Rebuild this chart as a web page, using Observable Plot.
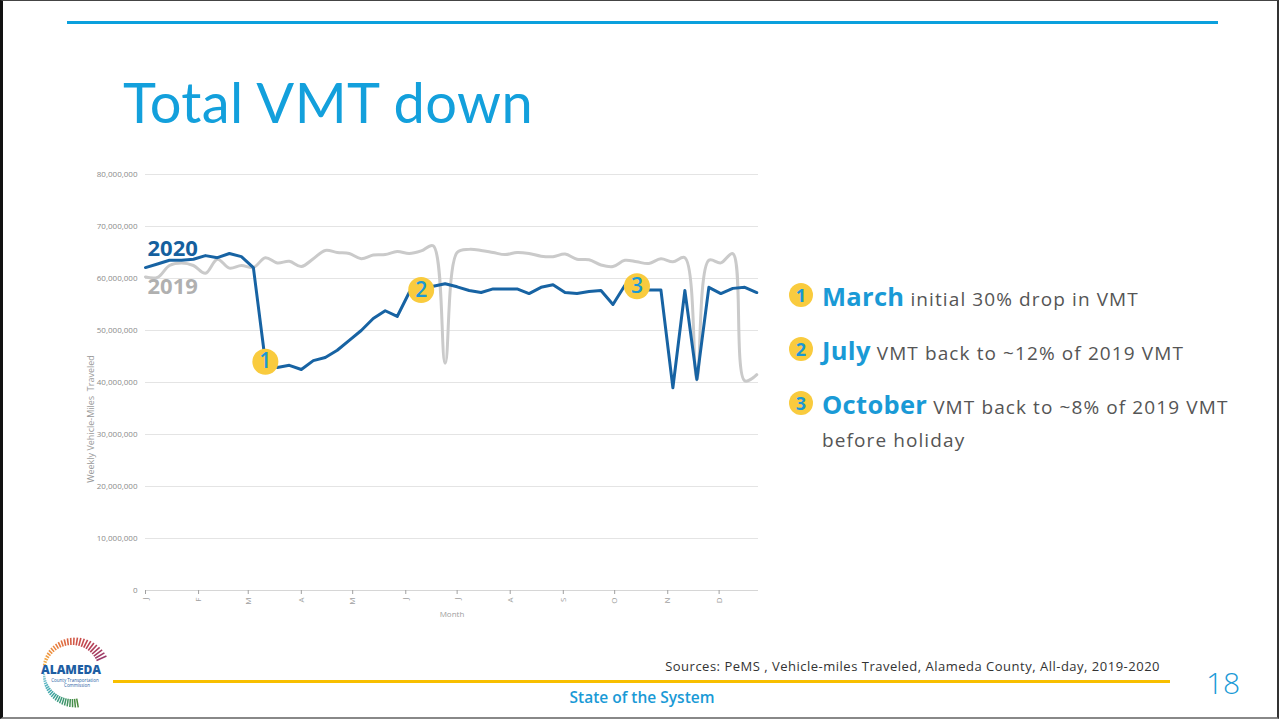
<!DOCTYPE html>
<html>
<head>
<meta charset="utf-8">
<script src="https://cdn.jsdelivr.net/npm/d3@7"></script>
<script src="https://cdn.jsdelivr.net/npm/@observablehq/plot@0.6"></script>
<style>
  html, body { margin: 0; padding: 0; background: #fff; }
  body { width: 1279px; height: 719px; position: relative; overflow: hidden; font-family: "Open Sans", sans-serif; }
  .frame { position: absolute; left: 0; top: 0; width: 1279px; height: 719px; box-sizing: border-box;
           border-left: 3px solid #111; border-top: 1px solid #444; border-right: 2px solid #333; border-bottom: 2px solid #888; pointer-events: none; }
  .topline { position: absolute; left: 67px; top: 21px; width: 1151px; height: 3px; background: #0ba0dd; }
  .title { position: absolute; left: 123px; top: 74px; font-family: Lato, "Open Sans", sans-serif; font-size: 56px; color: #13a0dc; font-weight: 400; letter-spacing: 0.4px; line-height: 1; white-space: nowrap; }
  #chart { position: absolute; left: 0; top: 150px; }
  .ylabel { position: absolute; left: 90px; top: 419px; transform: translate(-50%, -50%) rotate(-90deg); font-size: 9px; color: #9a9a9a; white-space: pre; }
  .notes { position: absolute; left: 788px; top: 280px; }
  .note { position: absolute; left: 0; white-space: nowrap; color: #555; font-size: 19px; letter-spacing: 1.1px; }
  .badge { position: absolute; left: 1px; top: 3px; width: 24px; height: 24px; border-radius: 50%; background: #f9cb3e; color: #1a98d5; font-size: 18px; font-weight: 700; text-align: center; line-height: 24px; letter-spacing: 0; }
  .note .txt { position: absolute; left: 34px; top: -1px; }
  .note b { color: #1a9ad6; font-size: 25.5px; font-weight: 700; letter-spacing: 0.3px; }
  .footline { position: absolute; left: 113px; top: 680px; width: 1057px; height: 3px; background: #f8bf00; }
  .source { position: absolute; right: 119px; top: 657px; font-size: 13px; letter-spacing: 0.5px; color: #333; white-space: nowrap; }
  .sys { position: absolute; left: 642px; top: 686px; transform: translateX(-50%); font-size: 15.5px; font-weight: 600; color: #1a9ad6; white-space: nowrap; }
  .page { position: absolute; left: 1206px; top: 668px; font-size: 30px; color: #1a9ad6; font-weight: 300; line-height: 1; }
  #logo { position: absolute; left: 28px; top: 636px; }
</style>
</head>
<body>
<div class="topline"></div>
<div class="title">Total VMT down</div>
<div id="chart"></div>
<div class="ylabel">Weekly Vehicle-Miles  Traveled</div>

<div class="notes">
  <div class="note" style="top:0px"><div class="badge">1</div><div class="txt"><b>March</b> initial 30% drop in VMT</div></div>
  <div class="note" style="top:54px"><div class="badge">2</div><div class="txt"><b>July</b> VMT back to ~12% of 2019 VMT</div></div>
  <div class="note" style="top:108px"><div class="badge">3</div><div class="txt"><b>October</b> VMT back to ~8% of 2019 VMT<br><span style="line-height:38px">before holiday</span></div></div>
</div>

<div class="source">Sources: PeMS , Vehicle-miles Traveled, Alameda County, All-day, 2019-2020</div>
<div class="footline"></div>
<div class="sys">State of the System</div>
<div class="page">18</div>
<svg id="logo" width="90" height="75"></svg>
<div class="frame"></div>

<script>
// ---- Data (weekly VMT, millions) ----
const monthLabels = ["J", "F", "M", "A", "M", "J", "J", "A", "S", "O", "N", "D"];
const vmt2020 = [62.1, 62.8, 63.5, 63.5, 63.7, 64.4, 64.0, 64.8, 64.2, 62.1,
                 44.0, 42.9, 43.3, 42.5, 44.2, 44.8, 46.2, 48.1, 50.0, 52.3,
                 53.8, 52.7, 57.3, 57.8, 58.5, 59.0, 58.4, 57.7, 57.3, 58.0,
                 58.0, 58.0, 57.1, 58.3, 58.8, 57.3, 57.1, 57.5, 57.7, 55.0,
                 58.7, 58.5, 57.8, 57.8, 39.0, 57.7, 40.6, 58.3, 57.1, 58.1,
                 58.3, 57.3];
const vmt2019 = [60.3, 60.2, 62.5, 63.0, 62.5, 61.0, 63.7, 62.0, 62.5, 62.1,
                 64.0, 63.0, 63.3, 62.3, 63.8, 65.4, 65.0, 64.8, 63.8, 64.5,
                 64.6, 65.2, 64.8, 65.3, 66.3, 43.7, 65.0, 65.6, 65.4, 65.0,
                 64.6, 65.0, 64.8, 64.3, 64.2, 64.7, 63.7, 63.6, 62.6, 62.3,
                 63.5, 63.2, 62.9, 63.8, 63.2, 64.0, 40.5, 63.5, 63.0, 64.8,
                 40.3, 41.5];
const yTicks = [0, 10, 20, 30, 40, 50, 60, 70, 80];
const callouts = [{week: 10, label: "1"}, {week: 23, label: "2"}, {week: 41, label: "3"}];

const start = new Date(Date.UTC(2020, 0, 1));
const end = new Date(Date.UTC(2020, 11, 24));
const weekDate = i => d3.utcDay.offset(start, 7 * i);
const rows2020 = vmt2020.map((v, i) => ({date: weekDate(i), v}));
const rows2019 = vmt2019.map((v, i) => ({date: weekDate(i), v}));
const badgeRows = callouts.map(c => ({date: weekDate(c.week), v: vmt2020[c.week], label: c.label}));
const monthTicks = d3.utcMonths(start, end);

const chart = Plot.plot({
  width: 780,
  height: 480,
  marginLeft: 145,
  marginRight: 22,
  marginTop: 24,
  marginBottom: 40,
  style: {fontFamily: "'Open Sans', sans-serif", fontSize: "8px", background: "transparent", overflow: "visible"},
  x: {type: "utc", domain: [start, end]},
  y: {domain: [0, 80]},
  marks: [
    Plot.gridY(yTicks.filter(d => d > 0), {stroke: "#e4e4e4", strokeOpacity: 1}),
    Plot.axisY(yTicks, {tickSize: 0, tickPadding: 8, color: "#8a8a8a", tickFormat: d => d3.format(",")(d * 1e6), label: null}),
    Plot.ruleY([0], {stroke: "#d6d6d6", strokeWidth: 1}),
    Plot.axisX(monthTicks, {tickRotate: -90, tickSize: 4, tickPadding: 3, color: "#a0a0a0", tickFormat: d => monthLabels[d.getUTCMonth()],
                            label: "Month", labelAnchor: "center", labelArrow: "none", labelOffset: 26}),
    Plot.lineY(rows2019, {x: "date", y: "v", stroke: "#cacaca", strokeWidth: 3, curve: "catmull-rom"}),
    Plot.lineY(rows2020, {x: "date", y: "v", stroke: "#1763a3", strokeWidth: 3}),
    Plot.text(rows2020.slice(0, 1), {x: "date", y: "v", text: () => "2020", textAnchor: "start", dx: 2, dy: -19, fill: "#15609e", fontSize: 22, fontWeight: "bold"}),
    Plot.text(rows2019.slice(0, 1), {x: "date", y: "v", text: () => "2019", textAnchor: "start", dx: 2, dy: 10, fill: "#b0b0b0", fontSize: 22, fontWeight: "bold"}),
    Plot.dot(badgeRows, {x: "date", y: "v", r: 13, fill: "#f9cb3e", stroke: "none"}),
    Plot.text(badgeRows, {x: "date", y: "v", text: "label", fill: "#1a98d5", fontSize: 21, fontWeight: 600})
  ]
});
document.getElementById("chart").appendChild(chart);

// ---- Logo (decorative) ----
(function () {
  const svg = d3.select("#logo");
  const cx = 44, cy = 36;
  const topColor = d3.interpolateRgbBasis(["#f4b24a", "#ea7d3c", "#c8434a", "#9b3a6a"]);
  d3.range(0, 26).forEach(i => {
    const t = i / 25;
    const a = (195 + t * 140) * Math.PI / 180;
    const r1 = 27, r2 = 27 + 3 + 8 * t;
    svg.append("line").attr("x1", cx + r1 * Math.cos(a)).attr("y1", cy + r1 * Math.sin(a))
      .attr("x2", cx + r2 * Math.cos(a)).attr("y2", cy + r2 * Math.sin(a))
      .attr("stroke", topColor(t)).attr("stroke-width", 1.6);
  });
  const botColor = d3.interpolateRgbBasis(["#8fd0d8", "#3aa7b8", "#3a9a7a", "#4a8a3a"]);
  d3.range(0, 22).forEach(i => {
    const t = i / 21;
    const a = (175 - t * 95) * Math.PI / 180;
    const r1 = 27, r2 = 27 + 2 + 7 * t;
    svg.append("line").attr("x1", cx + r1 * Math.cos(a)).attr("y1", cy + r1 * Math.sin(a))
      .attr("x2", cx + r2 * Math.cos(a)).attr("y2", cy + r2 * Math.sin(a))
      .attr("stroke", botColor(t)).attr("stroke-width", 1.5);
  });
  svg.append("text").attr("x", 43).attr("y", 38).attr("text-anchor", "middle")
    .attr("font-family", "'Open Sans', sans-serif").attr("font-weight", 800).attr("font-size", 12).attr("fill", "#1d5ea3").text("ALAMEDA");
  svg.append("text").attr("x", 47).attr("y", 46).attr("text-anchor", "middle")
    .attr("font-family", "'Open Sans', sans-serif").attr("font-size", 4.5).attr("fill", "#1d5ea3").text("County Transportation");
  svg.append("text").attr("x", 49).attr("y", 51).attr("text-anchor", "middle")
    .attr("font-family", "'Open Sans', sans-serif").attr("font-size", 4.5).attr("fill", "#1d5ea3").text("Commission");
})();
</script>
</body>
</html>
